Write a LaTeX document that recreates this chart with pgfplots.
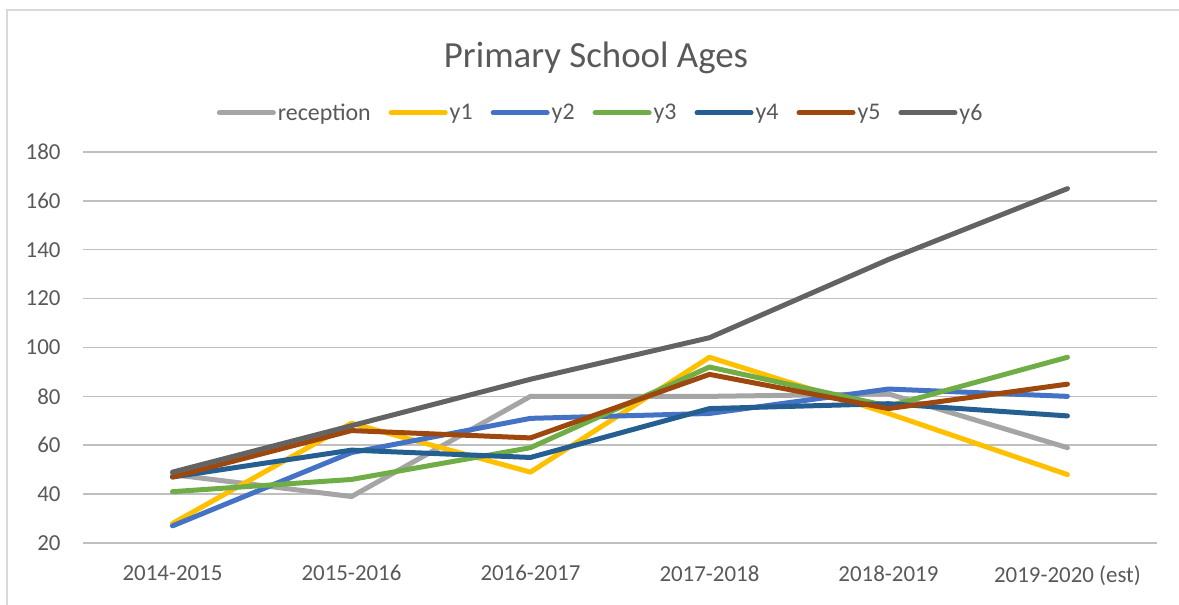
\documentclass[border=0pt]{standalone}
\usepackage{pgfplots}
\pgfplotsset{compat=1.18}
\usepackage{fontspec}
\setmainfont{Carlito}
\definecolor{txt}{HTML}{595959}
\definecolor{grid}{HTML}{D9D9D9}
\definecolor{cRec}{HTML}{A5A5A5}
\definecolor{cY1}{HTML}{FFC000}
\definecolor{cY2}{HTML}{4472C4}
\definecolor{cY3}{HTML}{70AD47}
\definecolor{cY4}{HTML}{255E91}
\definecolor{cY5}{HTML}{9E480E}
\definecolor{cY6}{HTML}{636363}
\begin{document}
\begin{tikzpicture}[x=1bp,y=1bp]
\useasboundingbox (0,0) rectangle (1179,605);
\draw[grid, line width=1.5bp] (7,-10) -- (7,595) -- (1190,595);
\node[text=txt, font=\fontsize{37}{42}\selectfont] at (596,547) {Primary School Ages};
\begin{axis}[
  at={(83bp,62bp)}, anchor=south west,
  scale only axis, width=1074bp, height=391bp,
  xmin=-0.5, xmax=5.5, ymin=20, ymax=180,
  xtick={0,1,2,3,4,5},
  xticklabels={2014-2015,2015-2016,2016-2017,2017-2018,2018-2019,2019-2020 (est)},
  ytick={20,40,...,180},
  axis line style={draw=none},
  major tick length=0pt, tick style={draw=none},
  xmajorgrids=false, ymajorgrids=true, grid style={grid, line width=1.5bp},
  ticklabel style={text=txt, font=\fontsize{23}{27}\selectfont},
  /pgf/number format/assume math mode=true,
  yticklabel style={xshift=-19bp},
  xticklabel style={yshift=-19bp},
  every axis plot/.append style={line width=5bp, line join=round, line cap=round, mark=none},
  legend style={at={(axis description cs:0.482,1.1)}, anchor=center, draw=none,
    fill=none, font=\fontsize{24}{28}\selectfont, text=txt,
    /tikz/every even column/.append style={column sep=16bp},
    inner sep=0pt, nodes={inner sep=2bp}},
  legend columns=-1,
  legend image code/.code={\draw[#1, line cap=round] (0bp,0bp) -- (54bp,0bp);},
]
\addplot[cRec] coordinates {(0,48) (1,39) (2,80) (3,80) (4,81) (5,59)};
\addlegendentry{reception}
\addplot[cY1] coordinates {(0,28) (1,69) (2,49) (3,96) (4,73) (5,48)};
\addlegendentry{y1}
\addplot[cY2] coordinates {(0,27) (1,57) (2,71) (3,73) (4,83) (5,80)};
\addlegendentry{y2}
\addplot[cY3] coordinates {(0,41) (1,46) (2,59) (3,92) (4,76) (5,96)};
\addlegendentry{y3}
\addplot[cY4] coordinates {(0,47) (1,58) (2,55) (3,75) (4,77) (5,72)};
\addlegendentry{y4}
\addplot[cY5] coordinates {(0,47) (1,66) (2,63) (3,89) (4,75) (5,85)};
\addlegendentry{y5}
\addplot[cY6] coordinates {(0,49) (1,68) (2,87) (3,104) (4,136) (5,165)};
\addlegendentry{y6}
\end{axis}
\end{tikzpicture}
\end{document}
